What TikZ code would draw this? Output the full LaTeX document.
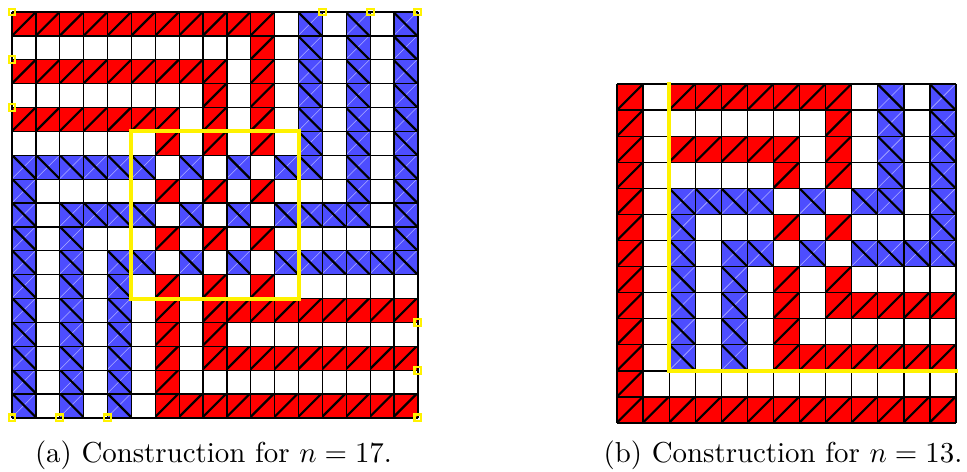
\documentclass[tikz,border=0pt]{standalone}
\usepackage{amsfonts,amssymb,amsmath}
\usepackage{tikz}
\usepackage{xcolor}
\definecolor{tileblue}{RGB}{77,77,255}

\begin{document}
\begin{tikzpicture}[x=0.3463pt,y=-0.3463pt,
 tR/.style={fill=red,path picture={\draw[line width=0.75pt](path picture bounding box.south west)--(path picture bounding box.north east);}},
 tB/.style={fill=tileblue,path picture={\draw[tileblue!45!white,line width=0.2pt](path picture bounding box.south west)--(path picture bounding box.north east);
  \draw[line width=0.75pt](path picture bounding box.north west)--(path picture bounding box.south east);}},
 tW/.style={fill=white},
 gridline/.style={line width=0.45pt},
 cornerbox/.style={draw=yellow,line width=0.7pt},
 hilite/.style={yellow,line width=1.4pt}]
\useasboundingbox (0,0) rectangle (967,472);
\begin{scope}[shift={(12,12)},scale=23.88]
\foreach \row [count=\j from 0] in {
 {R,R,R,R,R,R,R,R,R,R,R,W,B,W,B,W,B},
 {W,W,W,W,W,W,W,W,W,W,R,W,B,W,B,W,B},
 {R,R,R,R,R,R,R,R,R,W,R,W,B,W,B,W,B},
 {W,W,W,W,W,W,W,W,R,W,R,W,B,W,B,W,B},
 {R,R,R,R,R,R,R,W,R,W,R,W,B,W,B,W,B},
 {W,W,W,W,W,W,R,W,R,W,R,W,B,W,B,W,B},
 {B,B,B,B,B,B,W,B,W,B,W,B,B,W,B,W,B},
 {B,W,W,W,W,W,R,W,R,W,R,W,W,W,B,W,B},
 {B,W,B,B,B,B,W,B,W,B,W,B,B,B,B,W,B},
 {B,W,B,W,W,W,R,W,R,W,R,W,W,W,W,W,B},
 {B,W,B,W,B,B,W,B,W,B,W,B,B,B,B,B,B},
 {B,W,B,W,B,W,R,W,R,W,R,W,W,W,W,W,W},
 {B,W,B,W,B,W,R,W,R,R,R,R,R,R,R,R,R},
 {B,W,B,W,B,W,R,W,R,W,W,W,W,W,W,W,W},
 {B,W,B,W,B,W,R,W,R,R,R,R,R,R,R,R,R},
 {B,W,B,W,B,W,R,W,W,W,W,W,W,W,W,W,W},
 {B,W,B,W,B,W,R,R,R,R,R,R,R,R,R,R,R}}
 \foreach \cl [count=\i from 0] in \row
  \path[t\cl] (\i,\j) rectangle ++(1,1);
\foreach \k in {0,...,17}
 \draw[gridline] (\k,0)--(\k,17) (0,\k)--(17,\k);
\draw[hilite] (5,5) rectangle (12,12);
\foreach \p in {(0,0),(0,2),(0,4),(13,0),(15,0),(17,0),(0,17),(2,17),(4,17),(17,13),(17,15),(17,17)}
 \draw[cornerbox] \p ++(-0.145,-0.145) rectangle ++(0.29,0.29);
\end{scope}
\begin{scope}[shift={(617,84)},scale=26.08]
\foreach \row [count=\j from 0] in {
 {R,W,R,R,R,R,R,R,R,W,B,W,B},
 {R,W,W,W,W,W,W,W,R,W,B,W,B},
 {R,W,R,R,R,R,R,W,R,W,B,W,B},
 {R,W,W,W,W,W,R,W,R,W,B,W,B},
 {R,W,B,B,B,B,W,B,W,B,B,W,B},
 {R,W,B,W,W,W,R,W,R,W,W,W,B},
 {R,W,B,W,B,B,W,B,W,B,B,B,B},
 {R,W,B,W,B,W,R,W,R,W,W,W,W},
 {R,W,B,W,B,W,R,W,R,R,R,R,R},
 {R,W,B,W,B,W,R,W,W,W,W,W,W},
 {R,W,B,W,B,W,R,R,R,R,R,R,R},
 {R,W,W,W,W,W,W,W,W,W,W,W,W},
 {R,R,R,R,R,R,R,R,R,R,R,R,R}}
 \foreach \cl [count=\i from 0] in \row
  \path[t\cl] (\i,\j) rectangle ++(1,1);
\foreach \k in {0,...,13}
 \draw[gridline] (\k,0)--(\k,13) (0,\k)--(13,\k);
\draw[hilite,line cap=rect] (2,0)--(2,11)--(13,11);
\end{scope}
\node (capA) at (213.5,455.5) {(a) Construction for $n=17$.};
\node (capB) at (783,455.5) {(b) Construction for $n=13$.};
\end{tikzpicture}
\end{document}
